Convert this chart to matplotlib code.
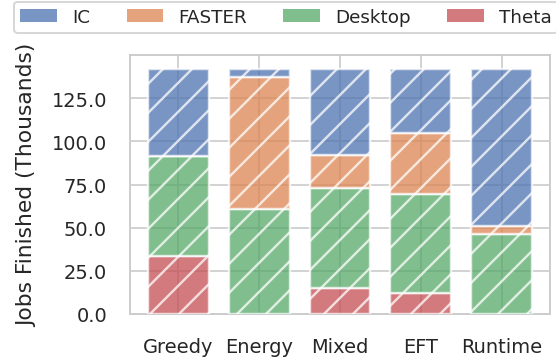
import matplotlib
matplotlib.use("Agg")
import matplotlib.pyplot as plt
from matplotlib.patches import Patch
from matplotlib.ticker import FormatStrFormatter
import numpy as np

# Jobs finished per scheduling policy (thousands), split by resource
policies = ["Greedy", "Energy", "Mixed", "EFT", "Runtime"]
theta = [33.4, 0.0, 15.0, 12.2, 0.0]
desktop = [57.9, 60.8, 58.1, 57.2, 46.3]
faster = [0.0, 76.2, 18.9, 35.3, 4.8]
ic = [50.5, 4.8, 49.8, 37.1, 90.7]
yticks = [0, 25, 50, 75, 100, 125]

colors = {
    "IC": "#4C72B0",
    "FASTER": "#DD8452",
    "Desktop": "#55A868",
    "Theta": "#C44E52",
}
alpha = 0.75
text_color = "#262626"

DPI = 174
fig = plt.figure(figsize=(556 / DPI, 362 / DPI), dpi=DPI)
plt.rcParams["hatch.color"] = "white"
plt.rcParams["hatch.linewidth"] = 1.0

ax = fig.add_axes([130 / 556, 1 - 315 / 362, 420 / 556, 259 / 362])

x = np.arange(len(policies))
width = 0.75
bottom = np.zeros(len(policies))
for name, vals in [("Theta", theta), ("Desktop", desktop),
                   ("FASTER", faster), ("IC", ic)]:
    vals = np.asarray(vals)
    ax.bar(x, vals, width, bottom=bottom, color=colors[name], alpha=alpha,
           edgecolor="white", linewidth=1.0, hatch="//", zorder=3)
    bottom += vals

ax.set_xlim(-0.6, 4.6)
ax.set_ylim(0, 150)
ax.set_yticks(yticks)
ax.yaxis.set_major_formatter(FormatStrFormatter("%.1f"))
ax.set_xticks(x)
ax.set_xticklabels(policies)

ax.grid(True, color="#cccccc", linewidth=0.7, zorder=0)
ax.set_axisbelow(True)
for s in ax.spines.values():
    s.set_color("#cccccc")
    s.set_linewidth(0.8)
ax.tick_params(axis="both", length=0, pad=9.5, labelsize=8, colors=text_color)
ax.set_ylabel("Jobs Finished (Thousands)", fontsize=9, color=text_color,
              labelpad=6)

handles = [Patch(facecolor=colors[n], alpha=alpha, edgecolor="none", label=n)
           for n in ["IC", "FASTER", "Desktop", "Theta"]]
leg = fig.legend(handles=handles, ncol=4, loc="upper left",
                 bbox_to_anchor=(14 / 556, 1 - 2.7 / 362), borderaxespad=0,
                 fontsize=7.6, frameon=True, edgecolor="#cccccc",
                 fancybox=True, columnspacing=2.0, handletextpad=0.8,
                 borderpad=0.35)
for t in leg.get_texts():
    t.set_color(text_color)
leg.get_frame().set_linewidth(0.8)

fig.savefig("out.png", dpi=DPI)
